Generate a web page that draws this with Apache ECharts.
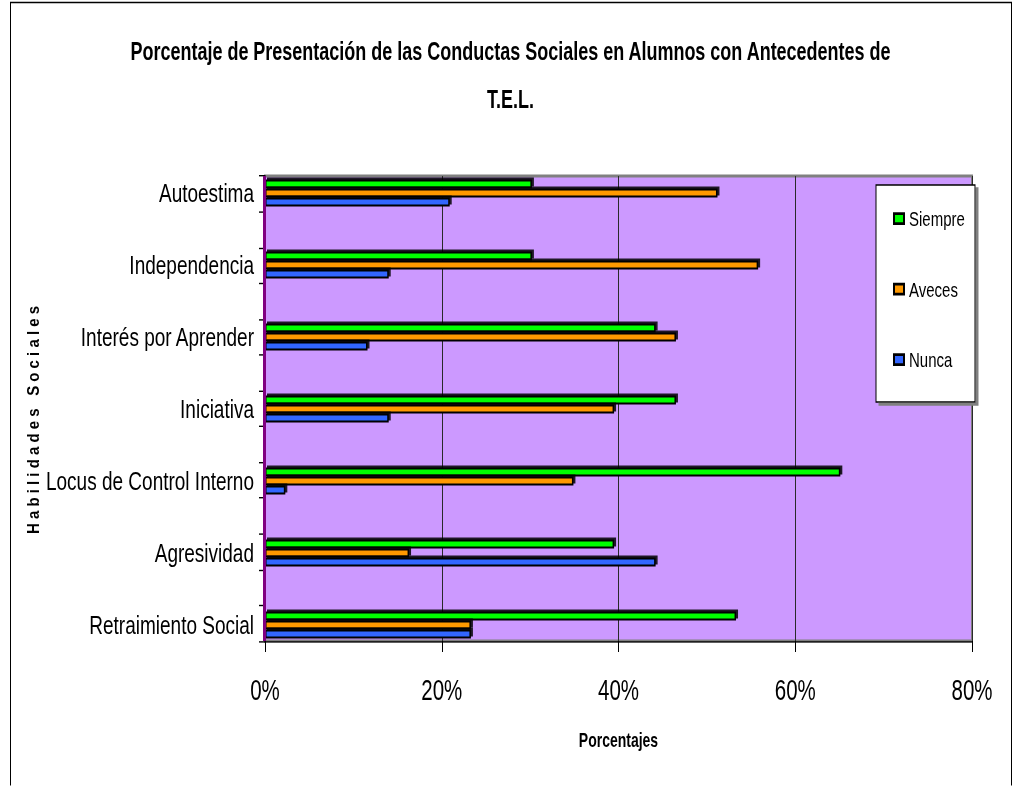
<!DOCTYPE html>
<html>
<head>
<meta charset="utf-8">
<script src="https://cdn.jsdelivr.net/npm/echarts@6/dist/echarts.min.js"></script>
<style>
html,body{margin:0;padding:0;background:#fff;overflow:hidden;}
#wrap{width:1021px;height:786px;overflow:hidden;}
#c{width:1021px;height:561.4px;transform:scaleY(1.4);transform-origin:0 0;}
</style>
</head>
<body>
<div id="wrap"><div id="c"></div></div>
<script>
// ---- data ----
const categories = ['Autoestima','Independencia','Interés por Aprender','Iniciativa','Locus de Control Interno','Agresividad','Retraimiento Social'];
const seriesNames = ['Siempre','Aveces','Nunca'];
const siempre = [30.2, 30.2, 44.2, 46.5, 65.1, 39.5, 53.3];
const aveces  = [51.2, 55.8, 46.5, 39.5, 34.9, 16.3, 23.3];
const nunca   = [20.9, 14.0, 11.6, 14.0, 2.3, 44.2, 23.3];
const xTicks = [0, 20, 40, 60, 80];
const titleText = 'Porcentaje de Presentación de las Conductas Sociales en Alumnos con Antecedentes de\nT.E.L.';
const xName = 'Porcentajes';
const yName = 'H a b i l i d a d e s   S o c i a l e s';

// the reference is vertically stretched; the page draws at 1/S height and stretches by S
const S = 1.4;
const FONT = "'Liberation Sans',Arial,sans-serif";
const colors = ['#00FF00','#FF9900','#3366FF'];
const values = [siempre, aveces, nunca];
const Y = v => v / S;

const chart = echarts.init(document.getElementById('c'), null, {renderer:'svg'});

const tickDummy = Array.from({length:13}, (_,i)=>String(i));

const option = {
  animation:false,
  title:{
    text:titleText, left:'center', top:Y(20),
    textStyle:{fontFamily:FONT, fontWeight:'bold', fontSize:18, lineHeight:Y(48), color:'#000'}
  },
  legend:{
    orient:'vertical', left:893, top:Y(218)-7, padding:0, itemWidth:10, itemHeight:Y(10), itemGap:Y(71)-15.4,
    icon:'rect', data:seriesNames,
    textStyle:{fontFamily:FONT, fontSize:15, lineHeight:14, color:'#000'}
  },
  grid:[
    {left:265, top:Y(176), width:707, height:Y(465), show:true, backgroundColor:'#CC99FF', borderColor:'#808080', borderWidth:2, z:0},
    {left:265, top:Y(157), width:707, height:Y(504), show:false}
  ],
  xAxis:[
    {gridIndex:0, type:'value', min:xTicks[0], max:xTicks[xTicks.length-1], interval:20,
     axisLine:{show:true, onZero:false, lineStyle:{color:'#000', width:1}},
     axisTick:{show:true, length:Y(11), lineStyle:{color:'#000'}},
     axisLabel:{formatter:'{value}%', fontFamily:FONT, fontSize:20.5, color:'#000', margin:24},
     splitLine:{show:true, lineStyle:{color:'#2a2a2a', width:1}},
     name:xName, nameLocation:'middle', nameGap:Y(90),
     nameTextStyle:{fontFamily:FONT, fontWeight:'bold', fontSize:14, color:'#000'}
    },
    {gridIndex:1, type:'value', min:xTicks[0], max:xTicks[xTicks.length-1], show:false, splitLine:{show:false}}
  ],
  yAxis:[
    {gridIndex:0, type:'category', data:tickDummy, inverse:true,
     axisLine:{show:true, lineStyle:{color:'#000', width:1}},
     axisTick:{show:true, length:6, lineStyle:{color:'#000'}},
     axisLabel:{show:false}, splitLine:{show:false}},
    {gridIndex:1, type:'category', data:categories, inverse:true,
     axisLine:{show:false}, axisTick:{show:false},
     axisLabel:{fontFamily:FONT, fontSize:19, color:'#000', margin:11, padding:[7,0,0,0]},
     splitLine:{show:false}}
  ],
  graphic:[
    {type:'rect', shape:{x:10.5, y:Y(2.5), width:1001, height:600}, style:{fill:'none', stroke:'#000', lineWidth:1}, z:-10, silent:true},
    {type:'rect', shape:{x:263, y:Y(176), width:3, height:Y(465)}, style:{fill:'#800080'}, z:5, silent:true},
    {type:'rect', shape:{x:876, y:Y(185), width:99, height:Y(217)}, style:{fill:'#fff', stroke:'#000', lineWidth:1, shadowColor:'#808080', shadowOffsetX:3, shadowOffsetY:Y(3), shadowBlur:0}, z:4, silent:true},
    {type:'text', x:33, y:Y(420), rotation:Math.PI/2, scaleX:0.63, style:{text:yName, fontFamily:FONT, fontWeight:'bold', fontSize:17, fill:'#000', align:'center', verticalAlign:'middle'}, silent:true}
  ],
  series: seriesNames.map((n,i)=>({
    name:n, type:'bar', xAxisIndex:1, yAxisIndex:1, data:values[i],
    barWidth:Y(9), barGap:'0%', z:3,
    itemStyle:{color:colors[i], borderColor:'#000', borderWidth:1.5, shadowColor:'rgba(0,0,0,0.85)', shadowOffsetX:2, shadowOffsetY:-Y(2), shadowBlur:0}
  }))
};
chart.setOption(option);
</script>
</body>
</html>
